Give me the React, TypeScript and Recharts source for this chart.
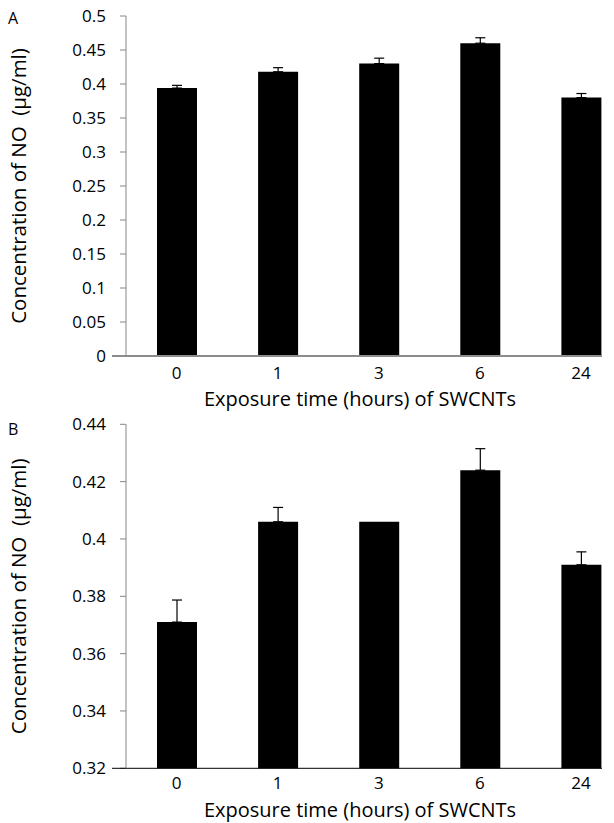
import { BarChart, Bar, XAxis, YAxis, ErrorBar, Label } from "recharts";

const hours = ["0", "1", "3", "6", "24"];

// panel A
const noA = [0.394, 0.418, 0.43, 0.46, 0.38];
const errA = [0.004, 0.006, 0.008, 0.008, 0.006];
const ticksA = [0, 0.05, 0.1, 0.15, 0.2, 0.25, 0.3, 0.35, 0.4, 0.45, 0.5];

// panel B
const noB = [0.371, 0.406, 0.406, 0.424, 0.391];
const errB = [0.0077, 0.005, 0, 0.0075, 0.0045];
const ticksB = [0.32, 0.34, 0.36, 0.38, 0.4, 0.42, 0.44];

const font = "'Open Sans', sans-serif";

const rows = (vals: number[], errs: number[]) =>
  hours.map((h, i) => ({ hour: h, no: vals[i], err: errs[i] ? [0, errs[i]] : null }));

const fmt = (v: number) => String(Number(v.toFixed(2)));

// y tick label; the bottom tick also carries the little stub of x axis left of the y axis
function YTick(props: any) {
  const { x, y, payload, min, axisStroke, axisWidth } = props;
  const ax = x + 20;
  return (
    <g>
      {payload.value === min && (
        <line x1={ax - 14} x2={ax} y1={y} y2={y} stroke={axisStroke} strokeWidth={axisWidth} />
      )}
      <text x={x} y={y} dy="0.36em" textAnchor="end" fontSize={17} fontFamily={font} fill="#000">
        {fmt(payload.value)}
      </text>
    </g>
  );
}

interface PanelProps {
  data: { hour: string; no: number; err: number[] | null }[];
  ticks: number[];
  height: number;
  top: number;
  xHeight: number;
  axisStroke: string;
  axisWidth: number;
  tickGap: number;
  titleOffset: number;
}

function Panel({ data, ticks, height, top, xHeight, axisStroke, axisWidth, tickGap, titleOffset }: PanelProps) {
  const min = ticks[0];
  const max = ticks[ticks.length - 1];
  return (
    <BarChart width={614} height={height} data={data} margin={{ top, right: 12, left: 0, bottom: 0 }}>
      <XAxis
        dataKey="hour"
        height={xHeight}
        padding={{ left: 0, right: -29.5 }}
        axisLine={{ stroke: axisStroke, strokeWidth: axisWidth }}
        tickLine={false}
        tickSize={0}
        tickMargin={tickGap}
        tick={{ fontSize: 17, fontFamily: font, fill: "#000" }}
      >
        <Label
          value="Exposure time (hours) of SWCNTs"
          position="insideBottom"
          offset={titleOffset}
          dx={-4}
          style={{ fontSize: 20, fontFamily: font, fill: "#000" }}
        />
      </XAxis>
      <YAxis
        type="number"
        domain={[min, max]}
        ticks={ticks}
        interval={0}
        width={126}
        axisLine={{ stroke: "#868686" }}
        tickLine={{ stroke: "#868686" }}
        tickSize={6}
        tickMargin={14}
        tick={<YTick min={min} axisStroke={axisStroke} axisWidth={axisWidth} />}
      >
        <Label
          value={"Concentration of NO\u00a0 (\u00b5g/ml)"}
          angle={-90}
          position="insideLeft"
          offset={19}
          style={{ fontSize: 20.5, fontFamily: font, fill: "#000", textAnchor: "middle" }}
        />
      </YAxis>
      <Bar dataKey="no" fill="#000" barSize={40} isAnimationActive={false}>
        <ErrorBar dataKey="err" direction="y" width={5} stroke="#000" strokeWidth={1.2} isAnimationActive={false} />
      </Bar>
    </BarChart>
  );
}

const letter = { position: "absolute" as const, left: 8, fontSize: 16, lineHeight: "16px", fontFamily: font };

export default function App() {
  return (
    <div style={{ position: "absolute", left: 0, top: 0, width: 614, height: 823, background: "#fff" }}>
      <div style={{ ...letter, top: 10 }}>A</div>
      <div style={{ ...letter, top: 421 }}>B</div>
      <Panel
        data={rows(noA, errA)}
        ticks={ticksA}
        height={412}
        top={16}
        xHeight={56}
        axisStroke="#8c8c8c"
        axisWidth={2}
        tickGap={11}
        titleOffset={5.6}
      />
      <Panel
        data={rows(noB, errB)}
        ticks={ticksB}
        height={411}
        top={12.3}
        xHeight={54.7}
        axisStroke="#000"
        axisWidth={1}
        tickGap={8.4}
        titleOffset={6.5}
      />
    </div>
  );
}
